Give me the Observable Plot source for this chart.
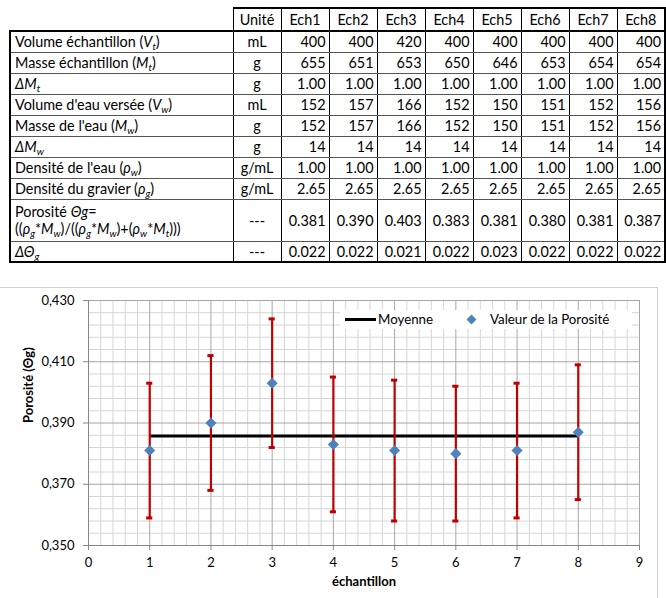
<!DOCTYPE html>
<html>
<head>
<meta charset="utf-8">
<script src="https://cdn.jsdelivr.net/npm/d3@7"></script>
<script src="https://cdn.jsdelivr.net/npm/@observablehq/plot@0.6"></script>
<style>
  html, body { margin: 0; padding: 0; background: #fff; }
  body { width: 666px; height: 598px; position: relative; overflow: hidden; font-family: Lato, "Open Sans", sans-serif; color: #000; }
  #tbl { position: absolute; left: 9px; top: 7px; border-collapse: collapse; table-layout: fixed; font-size: 14.4px; }
  #tbl td, #tbl th { padding: 0 3px; white-space: nowrap; font-weight: normal; border-left: 1px solid #000; border-right: 1px solid #000; border-top: 1px solid #555; border-bottom: 1px solid #555; line-height: 17px; }
  #tbl th { text-align: center; border-top: 2px solid #000; }
  #tbl th.empty { border: none; }
  #tbl thead tr { height: 23px; }
  #tbl tbody tr { height: 21px; }
  #tbl tbody tr.tall { height: 42px; }
  #tbl tbody tr:first-child td { border-top: 2px solid #000; }
  #tbl tbody tr:last-child td { border-bottom: 2px solid #000; }
  #tbl td.lab { text-align: left; border-left: 2px solid #000; padding-left: 4px; }
  #tbl td.unit { text-align: center; }
  #tbl td.num { text-align: right; }
  #tbl tr > :last-child { border-right: 2px solid #000; }
  #tbl sub { font-size: 0.68em; vertical-align: -0.3em; line-height: 0; }
  #frame { position: absolute; left: -1px; top: 287px; width: 659px; height: 320px; border: 1px solid #d0d0d0; box-sizing: border-box; }
  #chart { position: absolute; left: 0; top: 287px; }
  #legend { position: absolute; left: 340px; top: 310px; width: 292px; height: 19px; background: #fff; font-size: 13.3px; }
  #legend .item { position: absolute; top: 0; height: 19px; line-height: 19px; white-space: nowrap; }
</style>
</head>
<body>
<table id="tbl"></table>
<div id="frame"></div>
<div id="chart"></div>
<div id="legend"></div>
<script>
// ---------- data ----------
const samples = ["Ech1", "Ech2", "Ech3", "Ech4", "Ech5", "Ech6", "Ech7", "Ech8"];
const sampleNumbers = [1, 2, 3, 4, 5, 6, 7, 8];
const rowLabels = [
  "Volume échantillon (<i>V</i><sub><i>t</i></sub>)",
  "Masse échantillon (<i>M</i><sub><i>t</i></sub>)",
  "<i>ΔM</i><sub><i>t</i></sub>",
  "Volume d'eau versée (<i>V</i><sub><i>w</i></sub>)",
  "Masse de l'eau (<i>M</i><sub><i>w</i></sub>)",
  "<i>ΔM</i><sub><i>w</i></sub>",
  "Densité de l'eau (<i>ρ</i><sub><i>w</i></sub>)",
  "Densité du gravier (<i>ρ</i><sub><i>g</i></sub>)",
  "Porosité <i>Θg</i>=<br>((<i>ρ</i><sub><i>g</i></sub>*<i>M</i><sub><i>w</i></sub>)/((<i>ρ</i><sub><i>g</i></sub>*<i>M</i><sub><i>w</i></sub>)+(<i>ρ</i><sub><i>w</i></sub>*<i>M</i><sub><i>t</i></sub>)))",
  "<i>ΔΘ</i><sub><i>g</i></sub>"
];
const rowUnits = ["mL", "g", "g", "mL", "g", "g", "g/mL", "g/mL", "---", "---"];
const rowDecimals = [0, 0, 2, 0, 0, 0, 2, 2, 3, 3];
const volumeEchantillon = [400, 400, 420, 400, 400, 400, 400, 400];
const masseEchantillon = [655, 651, 653, 650, 646, 653, 654, 654];
const deltaMt = [1.00, 1.00, 1.00, 1.00, 1.00, 1.00, 1.00, 1.00];
const volumeEau = [152, 157, 166, 152, 150, 151, 152, 156];
const masseEau = [152, 157, 166, 152, 150, 151, 152, 156];
const deltaMw = [14, 14, 14, 14, 14, 14, 14, 14];
const densiteEau = [1.00, 1.00, 1.00, 1.00, 1.00, 1.00, 1.00, 1.00];
const densiteGravier = [2.65, 2.65, 2.65, 2.65, 2.65, 2.65, 2.65, 2.65];
const porosite = [0.381, 0.390, 0.403, 0.383, 0.381, 0.380, 0.381, 0.387];
const deltaPorosite = [0.022, 0.022, 0.021, 0.022, 0.023, 0.022, 0.022, 0.022];
const xTicks = [0, 1, 2, 3, 4, 5, 6, 7, 8, 9];
const yTicks = [0.35, 0.37, 0.39, 0.41, 0.43];
const seriesNames = ["Moyenne", "Valeur de la Porosité"];
const axisTitles = { x: "échantillon", y: "Porosité (Θg)" };

// ---------- table ----------
const rowValues = [volumeEchantillon, masseEchantillon, deltaMt, volumeEau, masseEau, deltaMw, densiteEau, densiteGravier, porosite, deltaPorosite];
const tbl = document.getElementById("tbl");
let html = "<colgroup><col style='width:223px'><col style='width:48px'>" + samples.map(() => "<col style='width:48px'>").join("") + "</colgroup>";
html += "<thead><tr><th class='empty'></th><th>Unité</th>" + samples.map(s => `<th>${s}</th>`).join("") + "</tr></thead><tbody>";
rowLabels.forEach((lab, i) => {
  html += `<tr class="${i === 8 ? "tall" : ""}"><td class="lab">${lab}</td><td class="unit">${rowUnits[i]}</td>` +
    rowValues[i].map(v => `<td class="num">${v.toFixed(rowDecimals[i])}</td>`).join("") + "</tr>";
});
html += "</tbody>";
tbl.innerHTML = html;

// ---------- chart ----------
const data = sampleNumbers.map((n, i) => ({ n, p: porosite[i], e: deltaPorosite[i] }));
const mean = d3.mean(porosite);
const capHalf = 0.05;
const minorX = d3.range(0, 9.0001, 0.2).filter(v => Math.abs(v - Math.round(v)) > 1e-6);
const minorY = d3.range(0.35, 0.43001, 0.004).filter(v => !yTicks.some(t => Math.abs(t - v) < 1e-6));
const fmt = d => d.toFixed(3).replace(".", ",");

const chart = Plot.plot({
  width: 659,
  height: 311,
  marginLeft: 88,
  marginRight: 20,
  marginTop: 13,
  marginBottom: 53,
  style: { fontFamily: "Lato, 'Open Sans', sans-serif", fontSize: "13px", background: "transparent", overflow: "visible" },
  x: { domain: [0, 9] },
  y: { domain: [0.35, 0.43] },
  marks: [
    Plot.ruleX(minorX, { stroke: "#d6d6d6", strokeWidth: 1 }),
    Plot.ruleY(minorY, { stroke: "#d6d6d6", strokeWidth: 1 }),
    Plot.ruleX(xTicks, { stroke: "#a6a6a6", strokeWidth: 1 }),
    Plot.ruleY(yTicks, { stroke: "#a6a6a6", strokeWidth: 1 }),
    Plot.axisX(xTicks, { tickSize: 5, tickPadding: 7, stroke: "#868686", fill: "#000", label: null, fontSize: 13 }),
    Plot.axisY(yTicks, { tickSize: 5, tickPadding: 9, tickFormat: fmt, stroke: "#868686", fill: "#000", label: null, fontSize: 13 }),
    Plot.ruleX([0], { stroke: "#868686" }),
    Plot.ruleY([0.35], { stroke: "#868686" }),
    Plot.ruleY([mean], { x1: d3.min(sampleNumbers), x2: d3.max(sampleNumbers), stroke: "#000", strokeWidth: 3 }),
    Plot.ruleX(data, { x: "n", y1: d => d.p - d.e, y2: d => d.p + d.e, stroke: "#c00000", strokeWidth: 2.2 }),
    Plot.ruleY(data, { y: d => d.p + d.e, x1: d => d.n - capHalf, x2: d => d.n + capHalf, stroke: "#c00000", strokeWidth: 3 }),
    Plot.ruleY(data, { y: d => d.p - d.e, x1: d => d.n - capHalf, x2: d => d.n + capHalf, stroke: "#c00000", strokeWidth: 3 }),
    Plot.dot(data, { x: "n", y: "p", symbol: "diamond2", r: 5, fill: "#4f81bd", stroke: "none" }),
    Plot.text([axisTitles.y], { frameAnchor: "left", dx: -60, rotate: -90, fontWeight: "bold", fontSize: 13, fill: "#000" }),
    Plot.text([axisTitles.x], { frameAnchor: "bottom", dy: 40, fontWeight: "bold", fontSize: 13, fill: "#000" })
  ]
});
document.getElementById("chart").appendChild(chart);

// ---------- legend ----------
const legend = document.getElementById("legend");
legend.innerHTML =
  `<div class="item" style="left:5px;width:31px;"><div style="position:absolute;top:8px;left:0;width:31px;height:3px;background:#000"></div></div>` +
  `<div class="item" style="left:38px">${seriesNames[0]}</div>` +
  `<div class="item" style="left:126px;width:10px;"><div style="position:absolute;top:6px;left:1.5px;width:7px;height:7px;background:#4f81bd;transform:rotate(45deg)"></div></div>` +
  `<div class="item" style="left:150px">${seriesNames[1]}</div>`;
</script>
</body>
</html>
